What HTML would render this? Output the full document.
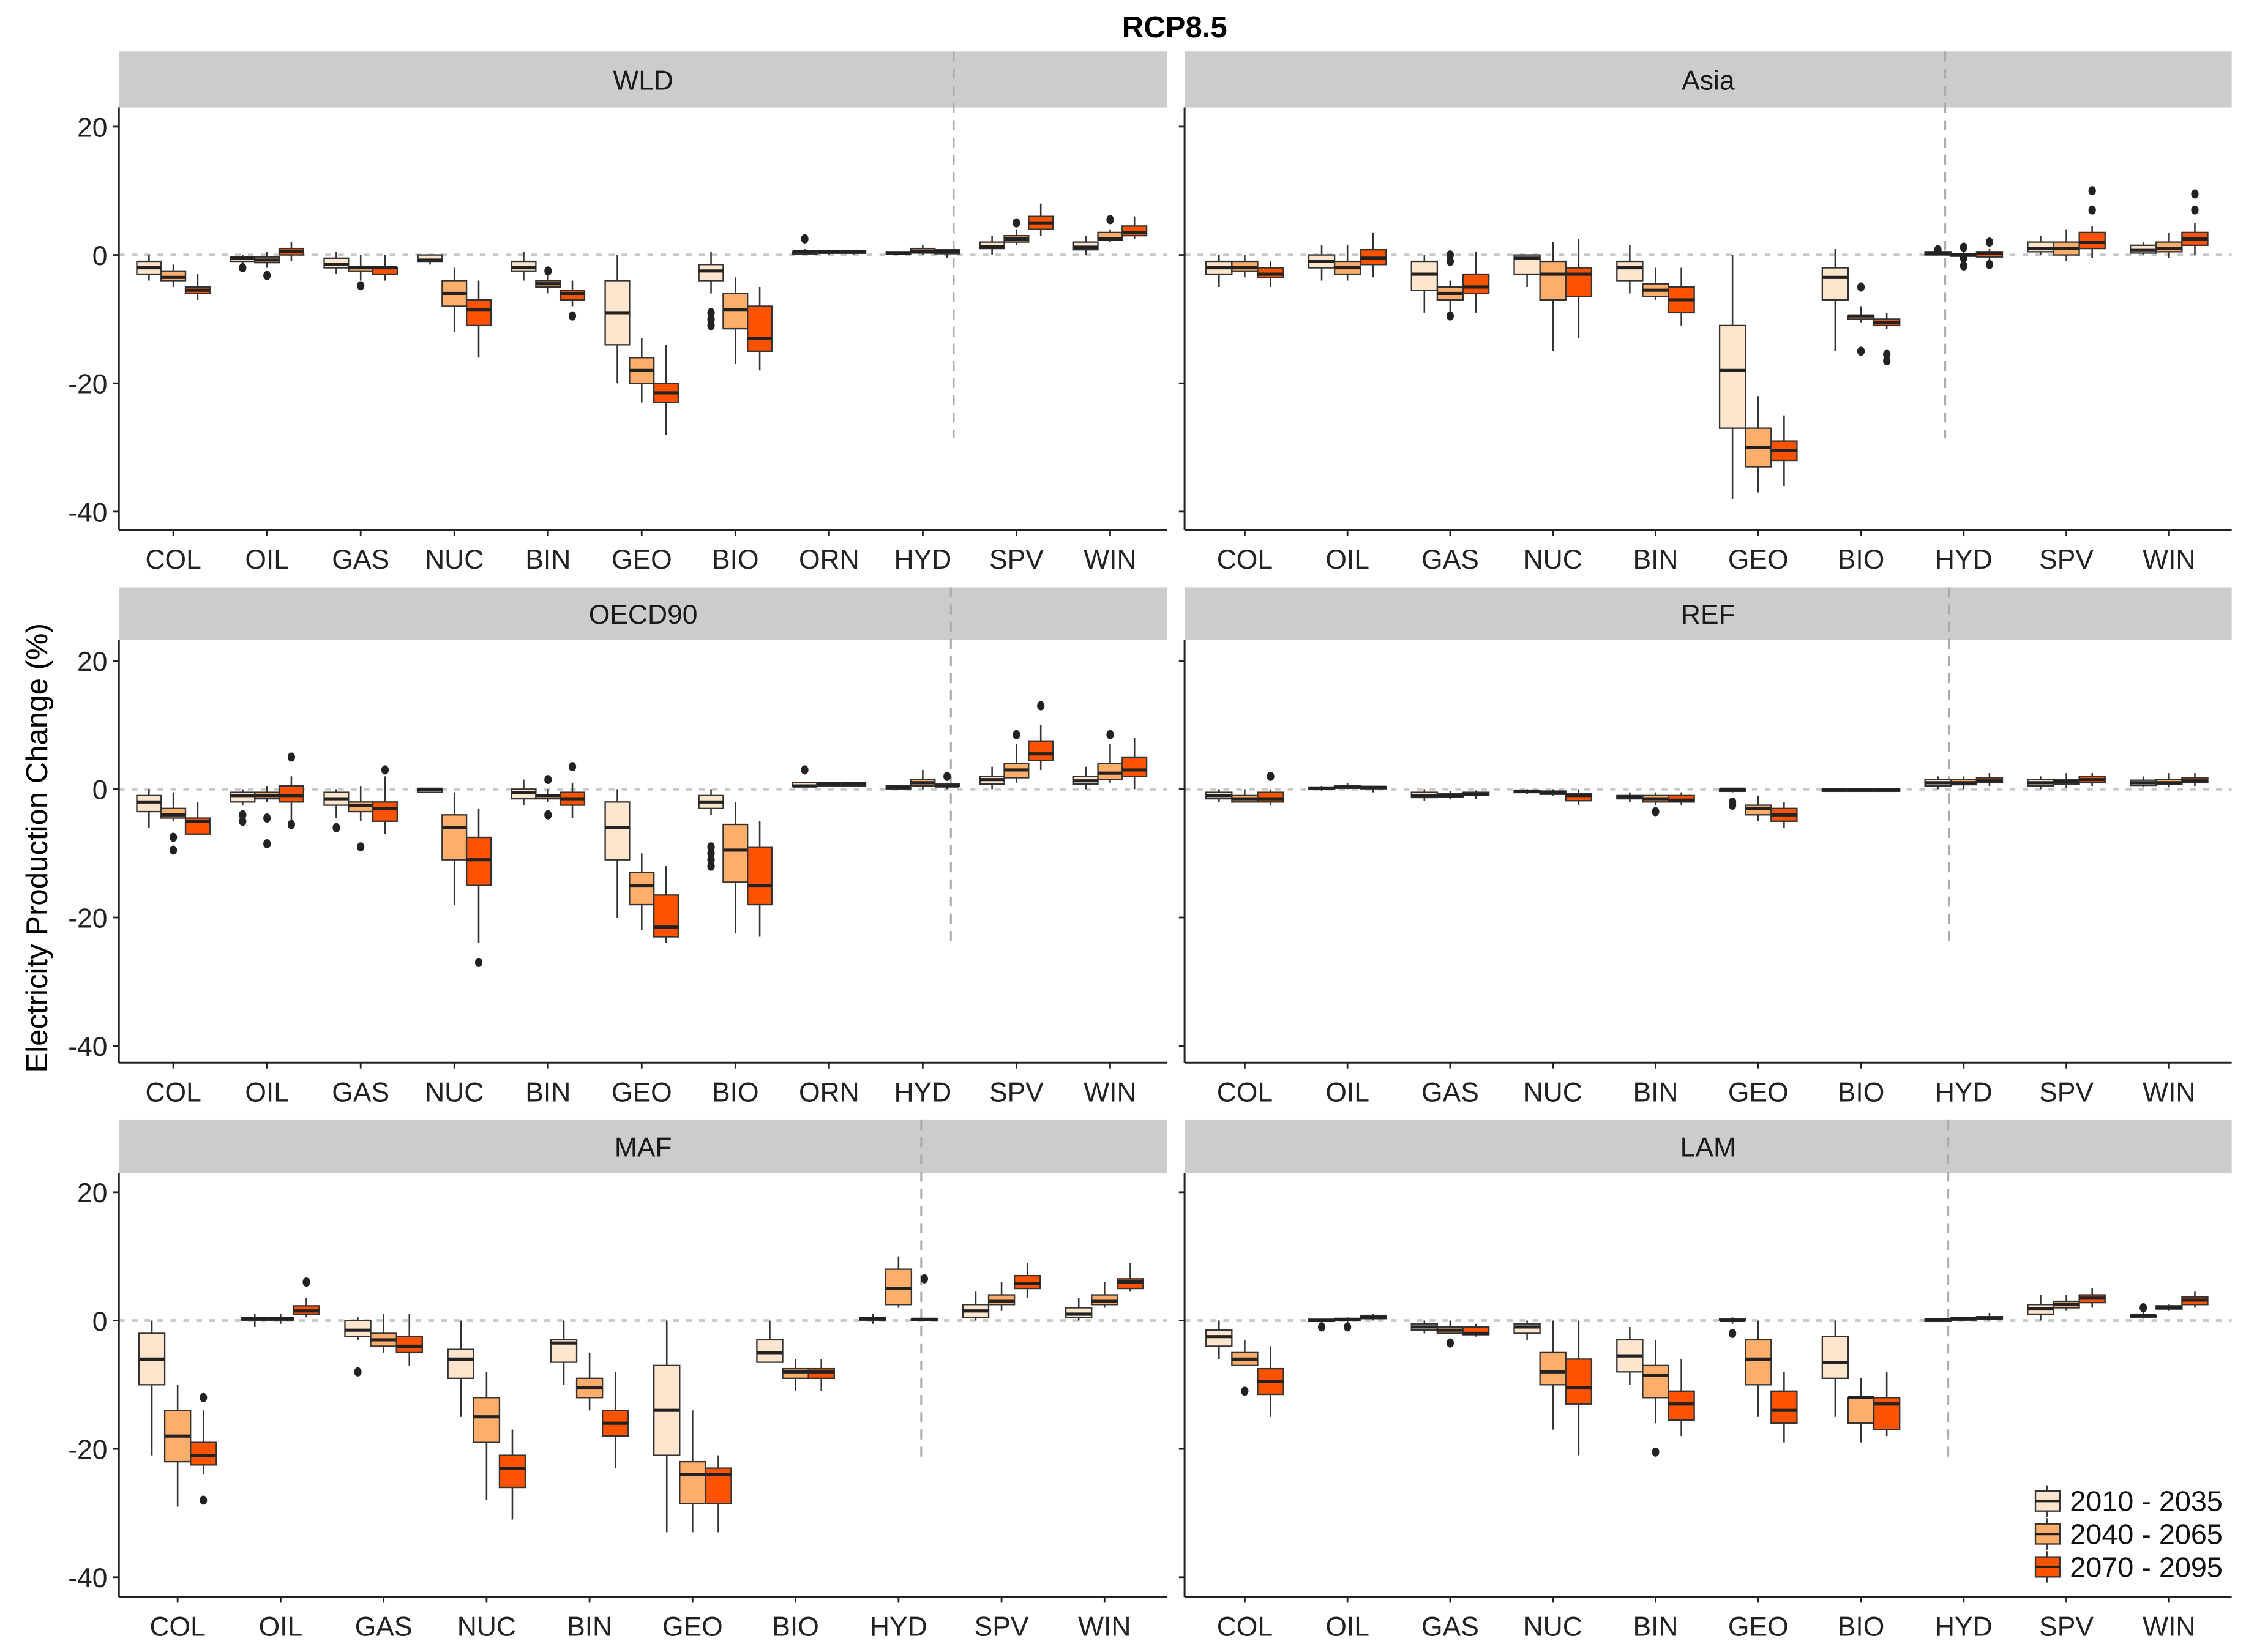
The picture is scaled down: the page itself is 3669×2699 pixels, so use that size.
<!DOCTYPE html>
<html><head><meta charset="utf-8">
<style>
html,body{margin:0;padding:0;background:#fff;}
svg{display:block;}
text{font-family:"Liberation Sans",Arial,sans-serif;}
</style></head>
<body>
<svg id="chart" xmlns="http://www.w3.org/2000/svg" width="3669" height="2699" viewBox="0 0 1568 1153.4">
<rect x="0" y="0" width="1568" height="1153.4" fill="#fff"/>
<text x="820" y="26" font-size="21" font-weight="bold" text-anchor="middle" fill="#000">RCP8.5</text>
<text transform="translate(33,592) rotate(-90)" font-size="21" text-anchor="middle" fill="#000">Electricity Production Change (%)</text>
<g id="panels"></g>
<g id="legend"></g>
</svg>
<script>
const catsFull = ["COL","OIL","GAS","NUC","BIN","GEO","BIO","ORN","HYD","SPV","WIN"];
const catsNoOrn = ["COL","OIL","GAS","NUC","BIN","GEO","BIO","HYD","SPV","WIN"];
const periods = ["2010 - 2035","2040 - 2065","2070 - 2095"];
const yTicks = [20,0,-20,-40];
const yTickLabels = ["20","0","-20","-40"];

// each entry: [lowWhisker, q1, median, q3, highWhisker, outliers...] per period
const wldStats = [
 [[-4,-3,-2,-1,0],[-5,-4,-3.5,-2.5,-1.5],[-7,-6,-5.5,-5,-3]],
 [[-1.5,-1,-0.5,-0.3,0,-2],[-2,-1.2,-0.8,-0.3,0.5,-3.2],[-1,0,0.5,1,2]],
 [[-3,-2,-1.5,-0.5,0.5],[-4,-2.5,-2,-2,0,-4.8],[-4,-3,-2,-2,0]],
 [[-1.5,-1,-0.8,0,0],[-12,-8,-6,-4,-2],[-16,-11,-8.5,-7,-4]],
 [[-4,-2.5,-2,-1,0.5],[-6,-5,-4.5,-4,-3,-2.5],[-8,-7,-6,-5.5,-4,-9.5]],
 [[-20,-14,-9,-4,0],[-23,-20,-18,-16,-13],[-28,-23,-21.5,-20,-14]],
 [[-6,-4,-2.5,-1.5,0.5,-9,-10,-11],[-17,-11.5,-8.5,-6,-3.5],[-18,-15,-13,-8,-5]],
 [[0,0.2,0.5,0.5,1,2.5],[0,0.3,0.5,0.6,0.6],[0,0.3,0.5,0.6,0.6]],
 [[0,0.2,0.3,0.5,0.5],[0,0.3,0.6,1,1.5],[-0.5,0.2,0.5,0.8,1]],
 [[0,1,1.3,2,3],[1.5,2,2.5,3,4,5],[3,4,5,6,8]],
 [[0,0.8,1.2,2,3],[2,2.3,2.5,3.5,4,5.5],[2.5,3,3.5,4.5,6]]
];
const asiaStats = [
 [[-5,-3,-2,-1,0],[-3.5,-2.5,-2,-1,0],[-5,-3.5,-3,-2,-1]],
 [[-4,-2,-1,0,1.5],[-4,-3,-2,-1,1.5],[-3.5,-1.5,-0.5,0.8,3.5]],
 [[-9,-5.5,-3,-1,0],[-10,-7,-6,-5,-4,0,-1,-9.5],[-9,-6,-5,-3,0.5]],
 [[-5,-3,-0.5,0,0],[-15,-7,-3,-1,2],[-13,-6.5,-3,-2,2.5]],
 [[-6,-4,-2,-1,1.5],[-7,-6.5,-5.5,-4.5,-2],[-11,-9,-7,-5,-2]],
 [[-38,-27,-18,-11,0],[-37,-33,-30,-27,-22],[-36,-32,-30.5,-29,-25]],
 [[-15,-7,-3.5,-2,1],[-10.5,-10,-9.5,-9.5,-8,-5,-15],[-11.5,-11,-10.5,-10,-9,-15.5,-16.5]],
 [[0,0,0.2,0.5,0.5,0.8],[-0.5,-0.2,0,0.2,0.5,1.2,-0.5,-1.7],[-1,-0.3,0.3,0.5,1,2,-1.5]],
 [[0,0.5,1,2,3],[-1,0,1,2,4],[-0.5,1,2,3.5,4.5,7,10]],
 [[0,0.3,0.8,1.5,2],[-0.5,0.5,1,2,3.5],[0,1.5,2.5,3.5,5,7,9.5]]
];
const oecdStats = [
 [[-6,-3.5,-2,-1,0],[-5,-4.5,-4,-3,-0.5,-7.5,-9.5],[-7,-7,-5,-4.5,-2]],
 [[-2.5,-2,-1,-0.5,0,-4,-5],[-2,-1.5,-1,-0.5,0.5,-4.5,-8.5],[-5,-2,-1,0.5,2,5,-5.5]],
 [[-4.5,-2.5,-1.5,-0.5,0,-6],[-5,-3.5,-2.5,-2,0.5,-9],[-7,-5,-3,-2,2,3]],
 [[-0.5,-0.5,0,0,0],[-18,-11,-6,-4,-0.5],[-24,-15,-11,-7.5,-3,-27]],
 [[-2.5,-1.5,-0.5,0,1.5],[-2,-1.5,-1,-1,0,1.5,-4],[-4.5,-2.5,-1.5,-0.5,1,3.5]],
 [[-20,-11,-6,-2,0],[-22,-18,-15,-13,-10],[-24,-23,-21.5,-16.5,-12]],
 [[-4,-3,-2,-1,0,-9,-10,-11,-12],[-22.5,-14.5,-9.5,-5.5,-2],[-23,-18,-15,-9,-5]],
 [[0.5,0.5,0.5,1,1,3],[0.5,0.5,0.8,1,1],[0.5,0.5,0.8,1,1]],
 [[0,0,0.3,0.5,0.5],[0,0.5,1,1.5,3],[0,0.5,0.5,0.8,1,2]],
 [[0,0.8,1.5,2,3.5],[1,1.8,3,4,7,8.5],[3,4.5,5.5,7.5,10,13]],
 [[0,0.8,1.3,2,3.5],[1,1.5,2.5,4,7,8.5],[0,2,3,5,8]]
];
const refStats = [
 [[-2,-1.5,-1,-0.5,0],[-2,-2,-1.5,-1,0],[-2.5,-2,-1.5,-0.5,0,2]],
 [[-0.3,0,0.2,0.3,0.5],[0,0.2,0.3,0.5,1],[-0.5,0.2,0.3,0.4,0.5]],
 [[-1.8,-1.3,-1,-0.5,0],[-1.5,-1.2,-1,-0.7,-0.3],[-1.5,-1,-0.8,-0.5,-0.2]],
 [[-0.8,-0.5,-0.3,-0.2,0],[-1,-0.8,-0.5,-0.3,0],[-2.5,-1.8,-1,-0.7,0]],
 [[-2,-1.5,-1.2,-1,-0.5],[-2.5,-2,-1.5,-1,-0.5,-3.5],[-2.5,-2,-1.7,-1,-0.5]],
 [[-0.5,-0.2,0,0,0,-2,-2.5],[-5,-4,-3,-2.5,-1],[-6,-5,-4,-3,-2]],
 [[-0.3,-0.2,-0.1,0,0],[-0.3,-0.2,-0.1,0,0],[-0.3,-0.2,-0.1,0,0]],
 [[0,0.5,1,1.5,2],[0,0.7,1,1.5,2],[0.5,1,1.3,1.8,2.5]],
 [[0,0.5,1,1.5,2],[0.2,0.8,1.2,1.5,2.5],[0.5,1,1.5,2,2.5]],
 [[0.3,0.6,1,1.4,2],[0.3,0.8,1,1.5,2.5],[0.5,1,1.3,1.8,2.5]]
];
const mafStats = [
 [[-21,-10,-6,-2,0],[-29,-22,-18,-14,-10],[-24,-22.5,-21,-19,-14,-12,-28]],
 [[-1,0,0.3,0.5,1],[-0.5,0,0.3,0.5,1],[0.5,1,1.5,2.3,3.5,6]],
 [[-3,-2.5,-1.5,0,0.5,-8],[-5,-4,-3,-2,1],[-7,-5,-4,-2.5,1]],
 [[-15,-9,-6,-4.5,0],[-28,-19,-15,-12,-8],[-31,-26,-23,-21,-17]],
 [[-10,-6.5,-3.5,-3,0],[-14,-12,-10.5,-9,-5],[-23,-18,-16,-14,-8]],
 [[-33,-21,-14,-7,0],[-33,-28.5,-24,-22,-14],[-33,-28.5,-24,-23,-21]],
 [[-6.5,-6.5,-5,-3,0],[-11,-9,-8,-7.5,-6],[-11,-9,-8,-7.5,-6]],
 [[-0.5,0,0.3,0.5,1],[2,2.5,5,8,10],[0,0,0.2,0.3,0.3,6.5]],
 [[0,0.5,1.5,2.5,4.5],[1.5,2.5,3,4,6],[3.5,5,5.8,7,9]],
 [[0,0.5,1,2,3.5],[2,2.5,3,4,6],[4.5,5,6,6.5,9]]
];
const lamStats = [
 [[-6,-4,-2.5,-1.5,0],[-7,-7,-6,-5,-3,-11],[-15,-11.5,-9.5,-7.5,-4]],
 [[-0.5,0,0,0.2,0.3,-1],[-0.5,0,0.2,0.3,0.5,-1],[0,0.3,0.5,0.8,1]],
 [[-2,-1.5,-1,-0.5,0],[-2,-2,-1.5,-1,0,-3.5],[-2.5,-2.2,-2,-1,-0.5]],
 [[-3,-2,-1,-0.5,0],[-17,-10,-8,-5,0],[-21,-13,-10.5,-6,0]],
 [[-10,-8,-5.5,-3,-1],[-16,-12,-8.5,-7,-3,-20.5],[-18,-15.5,-13,-11,-6]],
 [[-0.5,0,0,0.3,0.5,-2],[-15,-10,-6,-3,0],[-19,-16,-14,-11,-8]],
 [[-15,-9,-6.5,-2.5,0],[-19,-16,-12,-12,-9],[-18,-17,-13,-12,-8]],
 [[0,0,0.1,0.2,0.3],[0,0.2,0.3,0.4,0.5],[0,0.3,0.4,0.6,1.2]],
 [[0,1,1.8,2.5,4],[1.5,2,2.5,3,4],[2,2.8,3.5,4,5]],
 [[0.3,0.5,0.8,0.8,2,2],[1.5,1.8,2,2.3,2.5],[2,2.5,3.2,3.7,4.5]]
];
// dashed reference line position, in category units
const wldDash = 8.33, asiaDash = 6.82, oecdDash = 8.3, refDash = 6.86, mafDash = 7.22, lamDash = 6.85;
const wldDashEnd = -28.5, oecdDashEnd = -24.5, mafDashEnd = -22;

const colors = ["#FEE6CE","#FDAE6B","#FD5200"];
const NS = "http://www.w3.org/2000/svg";
function mk(tag, attrs, parent){
  const e = document.createElementNS(NS, tag);
  for (const k in attrs) e.setAttribute(k, attrs[k]);
  if (parent) parent.appendChild(e);
  return e;
}
const panelsG = document.getElementById("panels");
const rowsLayout = [
  {strip:36, top:75, bottom:370, zero:178},
  {strip:410, top:447, bottom:742, zero:551},
  {strip:782, top:819, bottom:1115, zero:922}
];
const cols = [{x0:83,x1:815},{x0:827,x1:1558}];
const panels = [
 {name:"WLD",row:0,col:0,cats:catsFull,stats:wldStats,x0c:121,step:65.4,bw:17,dash:wldDash,dashEnd:wldDashEnd},
 {name:"Asia",row:0,col:1,cats:catsNoOrn,stats:asiaStats,x0c:869,step:71.7,bw:18,dash:asiaDash,dashEnd:wldDashEnd},
 {name:"OECD90",row:1,col:0,cats:catsFull,stats:oecdStats,x0c:121,step:65.4,bw:17,dash:oecdDash,dashEnd:oecdDashEnd},
 {name:"REF",row:1,col:1,cats:catsNoOrn,stats:refStats,x0c:869,step:71.7,bw:18,dash:refDash,dashEnd:oecdDashEnd},
 {name:"MAF",row:2,col:0,cats:catsNoOrn,stats:mafStats,x0c:124,step:71.9,bw:18,dash:mafDash,dashEnd:mafDashEnd},
 {name:"LAM",row:2,col:1,cats:catsNoOrn,stats:lamStats,x0c:869,step:71.7,bw:18,dash:lamDash,dashEnd:mafDashEnd}
];
const PXU = 4.48;
panels.forEach(p => {
  const r = rowsLayout[p.row], c = cols[p.col];
  const yS = v => r.zero - v*PXU;
  const xS = i => p.x0c + i*p.step;
  const g = mk("g", {}, panelsG);
  
  
  const strip = mk("rect", {x:c.x0, y:r.strip, width:c.x1-c.x0, height:r.top-r.strip, fill:"#CCCCCC"}, g);
  
  
  const st = mk("text", {x:(c.x0+c.x1)/2, y:(r.strip+r.top)/2+7, "font-size":19, "text-anchor":"middle", fill:"#1a1a1a"}, g);
  st.textContent = p.name;
  
  
  // zero line
  const zl = mk("line", {x1:c.x0, x2:c.x1, y1:yS(0), y2:yS(0), stroke:"#c8c8c8", "stroke-width":2, "stroke-dasharray":"4,5"}, g);
  
  
  // dashed vertical
  const dv = mk("line", {x1:xS(p.dash), x2:xS(p.dash), y1:r.strip, y2:yS(p.dashEnd), stroke:"#aaaaaa", "stroke-width":1.3, "stroke-dasharray":"7,5"}, g);
  
  
  // boxes
  p.stats.forEach((cat, i) => {
    cat.forEach((s, k) => {
      const cx = xS(i) + (k-1)*p.bw, hw = p.bw/2;
      const bg = mk("g", {}, g);
      
      
      mk("line", {x1:cx, x2:cx, y1:yS(s[0]), y2:yS(s[4]), stroke:"#333", "stroke-width":1.1}, bg);
      const top = yS(s[3]), bot = yS(s[1]);
      mk("rect", {x:cx-hw, y:top, width:p.bw, height:Math.max(bot-top,1.5), fill:colors[k], stroke:"#333", "stroke-width":1}, bg);
      mk("line", {x1:cx-hw, x2:cx+hw, y1:yS(s[2]), y2:yS(s[2]), stroke:"#222", "stroke-width":2.2}, bg);
      for (let o = 5; o < s.length; o++) {
        mk("ellipse", {cx:cx, cy:yS(s[o]), rx:2.6, ry:3.2, fill:"#222"}, bg);
      }
    });
  });
  // axes
  const ax = mk("line", {x1:c.x0, x2:c.x0, y1:r.top, y2:r.bottom, stroke:"#222", "stroke-width":1.3}, g);
  
  
  const bx = mk("line", {x1:c.x0, x2:c.x1, y1:r.bottom, y2:r.bottom, stroke:"#222", "stroke-width":1.3}, g);
  
  
  yTicks.forEach((t, j) => {
    mk("line", {x1:c.x0-4, x2:c.x0, y1:yS(t), y2:yS(t), stroke:"#222", "stroke-width":1.2}, g);
    if (p.col === 0) {
      const tl = mk("text", {x:c.x0-8, y:yS(t)+7, "font-size":19, "text-anchor":"end", fill:"#222"}, g);
      tl.textContent = yTickLabels[j];
      
      
    }
  });
  p.cats.forEach((cn, i) => {
    mk("line", {x1:xS(i), x2:xS(i), y1:r.bottom, y2:r.bottom+4, stroke:"#222", "stroke-width":1.2}, g);
    const tl = mk("text", {x:xS(i), y:r.bottom+27, "font-size":19, "text-anchor":"middle", fill:"#222"}, g);
    tl.textContent = cn;
    
    
  });
});
// legend
const lg = document.getElementById("legend");
periods.forEach((lab, k) => {
  const y = 1048 + k*23;
  const eg = mk("g", {}, lg);
  
  
  mk("line", {x1:1429, x2:1429, y1:y-11, y2:y+11, stroke:"#333", "stroke-width":1}, eg);
  mk("rect", {x:1421, y:y-7, width:17, height:14, fill:colors[k], stroke:"#333", "stroke-width":1}, eg);
  mk("line", {x1:1421, x2:1438, y1:y, y2:y, stroke:"#222", "stroke-width":1.8}, eg);
  const t = mk("text", {x:1445, y:y+7, "font-size":20, fill:"#111"}, eg);
  t.textContent = lab;
});
</script>
</body></html>
